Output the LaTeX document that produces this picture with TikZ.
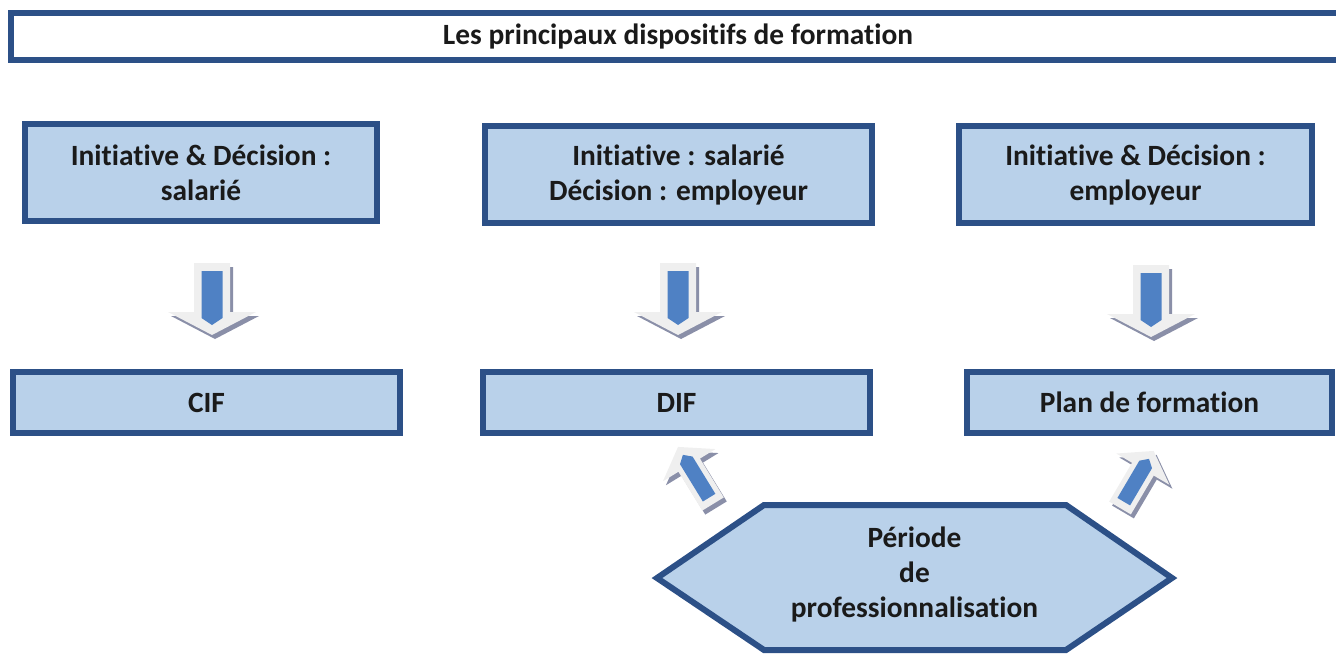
\documentclass[tikz,border=0pt]{standalone}
\usepackage{fontspec}
\setmainfont[Ligatures=NoCommon,RawFeature={-liga;-clig;-calt}]{Carlito}
\usepackage{tikz}
\definecolor{bleufonce}{HTML}{2C5087}
\definecolor{bleuclair}{HTML}{B9D1EA}
\definecolor{bleuvif}{HTML}{4F81C4}
\definecolor{grisclair}{HTML}{EFEFEF}
\definecolor{grisombre}{HTML}{8A8FA8}
\definecolor{texte}{HTML}{1A1A1A}
\tikzset{
  boite/.style={draw=bleufonce, line width=3pt, fill=bleuclair, text=texte,
    font=\bfseries\fontsize{14.7}{17.5}\selectfont, align=center, inner sep=0pt},
  haut/.style={boite, minimum height=48.5pt},
  bas/.style={boite, minimum height=30.5pt},
  hexa/.style={draw=bleufonce, line width=3pt, fill=bleuclair, line join=miter},
  ombre/.style={fill=grisombre},
  corps/.style={fill=grisclair},
  barre/.style={fill=bleuvif}
}
% #1,#2 : origine, #3 : rotation, #4 : xscale, #5 : yscale
\newcommand{\fleche}[5]{%
  \begin{scope}[shift={(#1,#2)}]
    \fill[ombre,shift={(3,4)},rotate=#3,xscale=#4,yscale=#5]
      (-18,0) -- (18,0) -- (18,49) -- (44,49) -- (0,72) -- (-44,49) -- (-18,49) -- cycle;
    \fill[corps,rotate=#3,xscale=#4,yscale=#5]
      (-18,0) -- (18,0) -- (18,49) -- (44,49) -- (0,72) -- (-44,49) -- (-18,49) -- cycle;
    \fill[barre,rotate=#3,xscale=#4,yscale=#5]
      (-10.5,8) -- (10.5,8) -- (10.5,55) -- (0,62) -- (-10.5,55) -- cycle;
  \end{scope}}

\begin{document}
\begin{tikzpicture}[x=0.5pt,y=-0.5pt]
\useasboundingbox (0,0) rectangle (1336,653);

\node[boite, fill=white, minimum width=667pt, minimum height=23.5pt] (titre) at (678,36.5)
  {Les principaux dispositifs de formation};

\node[haut, minimum width=176pt] (salarie) at (201,172.5) {Initiative \& Décision :\\salarié};
\node[haut, minimum width=193.5pt] (mixte) at (678.5,174.5) {Initiative : salarié\\Décision : employeur};
\node[haut, minimum width=176.5pt] (employeur) at (1135.5,174.5) {Initiative \& Décision :\\employeur};

\node[bas, minimum width=193.5pt] (cif) at (206.5,402.5) {CIF};
\node[bas, minimum width=193.5pt] (dif) at (676.5,402.5) {DIF};
\node[bas, minimum width=182.5pt] (plan) at (1149.5,402.5) {Plan de formation};

\draw[hexa] (657,578) -- (764,505) -- (1066,505) -- (1172,578) -- (1066,650) -- (764,650) -- cycle;
\node[text=texte, font=\bfseries\fontsize{14.7}{17.5}\selectfont, align=center] (periode) at (914.5,574)
  {Période\\de\\professionnalisation};

\fleche{212}{263}{0}{1}{1}
\fleche{678}{263}{0}{1}{1}
\fleche{1151}{265}{0}{1}{1}
\fleche{713}{504}{211.5}{0.7}{0.93}
\fleche{1120}{508}{149.5}{0.7}{0.92}
\end{tikzpicture}
\end{document}
